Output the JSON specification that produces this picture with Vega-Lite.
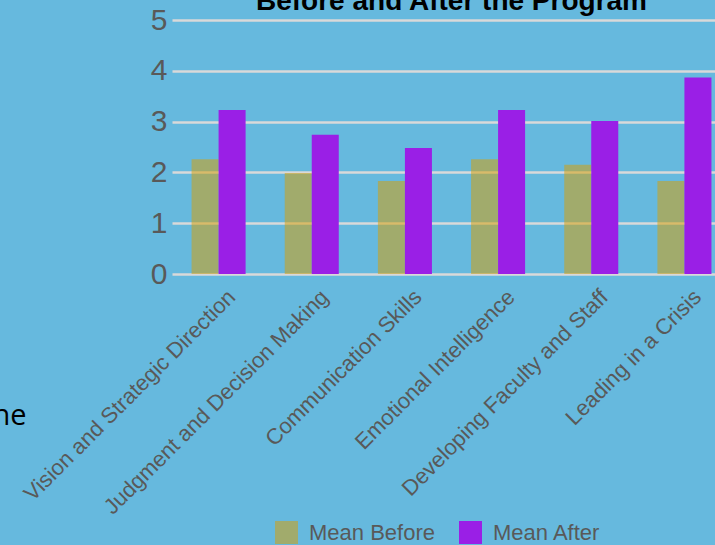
{
  "$schema": "https://vega.github.io/schema/vega-lite/v6.json",
  "autosize": {"type": "none"},
  "width": 543,
  "height": 254,
  "padding": {"left": 172, "top": 20, "right": 0, "bottom": 271},
  "background": "#66b9de",
  "title": {
    "text": "Before and After the Program",
    "font": "Liberation Sans",
    "fontSize": 28,
    "fontWeight": "bold",
    "color": "#000000",
    "anchor": "middle",
    "dx": 8,
    "baseline": "alphabetic",
    "offset": -33
  },
  "data": {
    "values": [
      {"skill": "Vision and Strategic Direction", "measure": "Mean Before", "score": 2.26},
      {"skill": "Vision and Strategic Direction", "measure": "Mean After", "score": 3.23},
      {"skill": "Judgment and Decision Making", "measure": "Mean Before", "score": 1.99},
      {"skill": "Judgment and Decision Making", "measure": "Mean After", "score": 2.74},
      {"skill": "Communication Skills", "measure": "Mean Before", "score": 1.83},
      {"skill": "Communication Skills", "measure": "Mean After", "score": 2.48},
      {"skill": "Emotional Intelligence", "measure": "Mean Before", "score": 2.26},
      {"skill": "Emotional Intelligence", "measure": "Mean After", "score": 3.23},
      {"skill": "Developing Faculty and Staff", "measure": "Mean Before", "score": 2.15},
      {"skill": "Developing Faculty and Staff", "measure": "Mean After", "score": 3.01},
      {"skill": "Leading in a Crisis", "measure": "Mean Before", "score": 1.83},
      {"skill": "Leading in a Crisis", "measure": "Mean After", "score": 3.87}
    ]
  },
  "mark": {"type": "bar"},
  "encoding": {
    "x": {
      "field": "skill",
      "type": "nominal",
      "sort": null,
      "scale": {"range": [0, 559], "paddingInner": 0.42, "paddingOuter": 0.21},
      "axis": {
        "title": null,
        "domain": false,
        "ticks": false,
        "labelAngle": -45,
        "labelFont": "Liberation Sans",
        "labelFontSize": 22,
        "labelColor": "#595959",
        "labelPadding": 12,
        "labelOffset": 6,
        "labelLimit": 400
      }
    },
    "xOffset": {
      "field": "measure",
      "type": "nominal",
      "sort": ["Mean Before", "Mean After"]
    },
    "y": {
      "field": "score",
      "type": "quantitative",
      "scale": {"domain": [0, 5], "nice": false},
      "axis": {
        "values": [0, 1, 2, 3, 4, 5],
        "domain": false,
        "ticks": false,
        "grid": true,
        "gridColor": "#d9d9d9",
        "gridWidth": 2.5,
        "gridOpacity": 1,
        "labelFont": "Liberation Sans",
        "labelFontSize": 30,
        "labelColor": "#595959",
        "labelPadding": 5,
        "title": "ne",
        "titleAngle": 0,
        "titleFont": "Open Sans",
        "titleFontSize": 29,
        "titleFontWeight": "normal",
        "titleColor": "#000000",
        "titleAlign": "left",
        "titleBaseline": "alphabetic",
        "titleX": -180,
        "titleY": 404
      }
    },
    "color": {
      "field": "measure",
      "type": "nominal",
      "scale": {
        "domain": ["Mean Before", "Mean After"],
        "range": ["rgba(215,159,3,0.52)", "#9a1fe6"]
      },
      "legend": {
        "title": null,
        "orient": "none",
        "direction": "horizontal",
        "legendX": 103,
        "legendY": 501,
        "symbolType": "square",
        "symbolSize": 529,
        "symbolStrokeWidth": 0,
        "labelFont": "Liberation Sans",
        "labelFontSize": 22,
        "labelColor": "#595959",
        "labelOffset": 11,
        "columnPadding": 24,
        "labelLimit": 300
      }
    }
  },
  "config": {
    "view": {"stroke": null}
  }
}
